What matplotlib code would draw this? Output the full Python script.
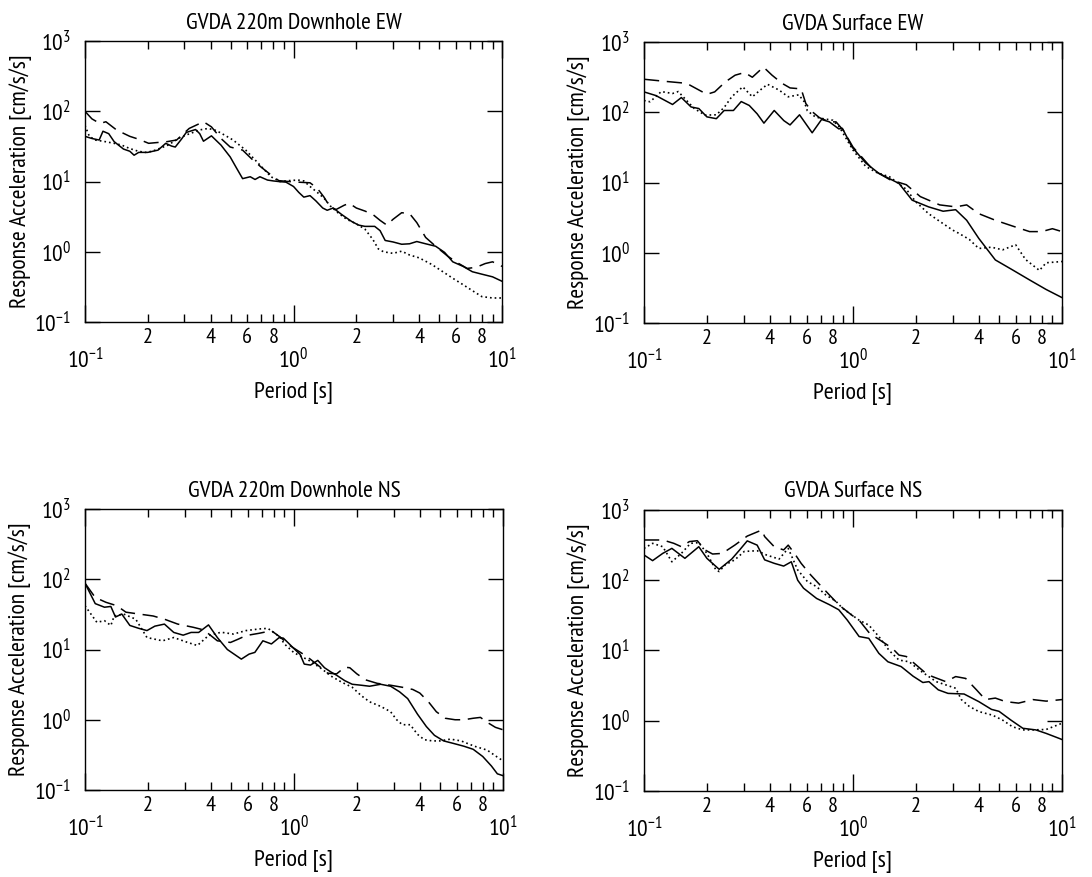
import matplotlib
matplotlib.use('Agg')
import matplotlib.pyplot as plt
import numpy as np
from matplotlib import font_manager
from matplotlib.ticker import LogLocator, FuncFormatter, NullLocator, LogFormatterSciNotation

# ---- data (period [s], response acceleration [cm/s/s]) ----
# GVDA 220m Downhole EW
dh_ew_solid_t = [0.100, 0.108, 0.117, 0.122, 0.130, 0.138, 0.153, 0.164, 0.172, 0.181, 0.200, 0.224, 0.244, 0.260, 0.271,
                 0.290, 0.306, 0.339, 0.355, 0.370, 0.404, 0.449, 0.497, 0.530, 0.570, 0.620, 0.654, 0.690, 0.750, 0.800,
                 0.850, 0.920, 1.00, 1.06, 1.12, 1.20, 1.28, 1.38, 1.45, 1.55, 1.70, 1.90, 2.05, 2.20, 2.45,
                 2.60, 2.75, 3.00, 3.30, 3.60, 3.90, 4.30, 4.80, 5.30, 5.80, 6.50, 7.20, 8.00, 9.00, 10.0]
dh_ew_solid_v = [44, 41, 39, 52, 48, 37, 29, 27, 23.7, 26, 26, 28, 35, 32, 31,
                 40, 50, 55, 48, 37.5, 44.7, 33, 22.4, 16, 11, 11.7, 10.7, 11.7, 10.5, 10.2,
                 10.0, 9.8, 8.5, 7.0, 6.0, 6.3, 5.3, 4.2, 3.9, 4.2, 3.4, 2.7, 2.4, 2.3, 2.3,
                 2.0, 1.45, 1.38, 1.28, 1.3, 1.4, 1.3, 1.2, 0.98, 0.72, 0.62, 0.52, 0.48, 0.44, 0.38]
dh_ew_dot_t = [0.100, 0.105, 0.112, 0.125, 0.138, 0.150, 0.164, 0.180, 0.195, 0.210, 0.231, 0.250, 0.266, 0.285, 0.306,
               0.330, 0.351, 0.390, 0.420, 0.449, 0.513, 0.590, 0.680, 0.780, 0.860, 0.950, 1.05, 1.12, 1.20, 1.30,
               1.40, 1.50, 1.65, 1.80, 2.00, 2.20, 2.40, 2.55, 2.70, 3.00, 3.30, 3.60, 4.00, 4.60, 5.20,
               5.80, 6.50, 7.20, 8.00, 9.00, 10.0]
dh_ew_dot_v = [63, 44, 39, 37, 35, 33, 29.5, 27, 26, 27, 30, 33, 37, 42, 46,
               50, 54, 57, 54, 49, 39, 28, 18, 11.7, 10, 10.3, 10.5, 10.2, 8.5, 7.0,
               5.8, 4.5, 3.5, 2.9, 2.5, 2.1, 1.5, 1.1, 1.0, 0.95, 1.02, 0.9, 0.82, 0.66, 0.52,
               0.42, 0.34, 0.28, 0.23, 0.22, 0.22]
dh_ew_dash_t = [0.100, 0.108, 0.118, 0.126, 0.142, 0.164, 0.181, 0.202, 0.224, 0.248, 0.275, 0.316, 0.370, 0.404, 0.449,
                0.497, 0.570, 0.630, 0.700, 0.780, 0.850, 0.950, 1.05, 1.20, 1.30, 1.40, 1.50, 1.60, 1.75, 1.85,
                2.00, 2.20, 2.40, 2.60, 2.80, 3.00, 3.30, 3.60, 3.90, 4.30, 4.80, 5.50, 6.20, 6.80, 7.50,
                8.30, 9.00, 10.0]
dh_ew_dash_v = [100, 78, 67, 71, 54, 44, 40, 35, 36, 37, 39, 57, 71, 60, 41,
                31, 28, 21, 16, 12.4, 10.3, 10, 9.8, 9.6, 8.0, 6.0, 4.3, 4.0, 4.6, 4.9,
                4.2, 3.8, 3.4, 2.8, 2.4, 2.9, 3.6, 3.5, 2.6, 1.6, 1.2, 0.86, 0.68, 0.58, 0.6,
                0.68, 0.72, 0.62]

# GVDA Surface EW
sf_ew_solid_t = [0.100, 0.114, 0.137, 0.151, 0.168, 0.183, 0.200, 0.222, 0.242, 0.268, 0.292, 0.319, 0.348, 0.375, 0.420,
                 0.467, 0.500, 0.555, 0.638, 0.708, 0.771, 0.855, 0.890, 0.990, 1.15, 1.33, 1.66, 1.92, 2.30, 2.70,
                 3.10, 3.50, 4.00, 4.80, 5.80, 7.00, 8.40, 10.0]
sf_ew_solid_v = [195, 173, 129, 162, 119, 113, 86, 81, 106, 106, 142, 125, 95, 70, 106,
                 76, 66, 92, 51, 79, 73, 58, 59, 32, 19, 13.5, 9.7, 5.6, 4.5, 3.9,
                 4.1, 2.9, 1.6, 0.79, 0.57, 0.41, 0.30, 0.23]
sf_ew_dot_t = [0.100, 0.107, 0.121, 0.137, 0.146, 0.160, 0.174, 0.196, 0.222, 0.242, 0.263, 0.297, 0.330, 0.360, 0.390,
               0.443, 0.490, 0.550, 0.585, 0.605, 0.660, 0.720, 0.800, 0.860, 1.00, 1.15, 1.29, 1.50, 1.80, 2.00,
               2.30, 2.60, 3.00, 3.20, 3.60, 4.00, 4.60, 5.20, 6.00, 6.70, 7.80, 8.40, 10.0]
sf_ew_dot_v = [147, 141, 197, 185, 197, 147, 113, 91, 92, 117, 166, 230, 166, 207, 250,
               207, 166, 177, 141, 105, 86, 81, 77, 62, 29, 17, 14, 12, 8.0, 5.3,
               3.6, 2.8, 2.1, 1.9, 1.55, 1.15, 1.2, 1.1, 1.3, 0.8, 0.56, 0.72, 0.75]
sf_ew_dash_t = [0.100, 0.127, 0.160, 0.200, 0.218, 0.245, 0.273, 0.303, 0.330, 0.373, 0.410, 0.458, 0.500, 0.565, 0.595,
                0.638, 0.690, 0.770, 0.830, 0.900, 1.00, 1.25, 1.50, 1.80, 2.10, 2.60, 3.10, 3.50, 4.00, 4.80,
                5.80, 7.00, 8.00, 9.00, 10.0]
sf_ew_dash_v = [295, 275, 258, 180, 195, 270, 337, 368, 315, 440, 337, 258, 222, 215, 133,
                102, 84, 73, 73, 55, 32, 15, 11, 9.3, 6.3, 4.8, 4.5, 4.8, 3.6, 2.9,
                2.4, 2.0, 2.0, 2.2, 2.0]

# GVDA 220m Downhole NS
dh_ns_solid_t = [0.100, 0.112, 0.124, 0.133, 0.140, 0.150, 0.164, 0.181, 0.198, 0.216, 0.240, 0.266, 0.295, 0.322, 0.350,
                 0.390, 0.430, 0.480, 0.560, 0.610, 0.650, 0.710, 0.780, 0.850, 0.890, 0.950, 1.00, 1.07, 1.12, 1.20,
                 1.30, 1.40, 1.50, 1.60, 1.75, 1.90, 2.10, 2.30, 2.60, 2.90, 3.20, 3.50, 3.90, 4.30, 4.70,
                 5.20, 5.80, 6.50, 7.20, 8.00, 8.80, 9.40, 10.0]
dh_ns_solid_v = [88, 45, 40, 41, 29, 32, 22, 20, 18.6, 21.5, 23, 17.5, 16, 17.5, 17.5,
                 22.4, 14.8, 10, 7.3, 8.6, 9.1, 13.3, 12, 14.8, 14.5, 12, 10.3, 8.5, 6.2, 6.0,
                 7.0, 5.5, 4.8, 4.3, 3.6, 3.2, 3.1, 3.0, 3.2, 3.0, 2.5, 2.0, 1.2, 0.8, 0.6,
                 0.5, 0.46, 0.42, 0.38, 0.3, 0.22, 0.17, 0.16]
dh_ns_dot_t = [0.100, 0.114, 0.124, 0.133, 0.138, 0.153, 0.175, 0.198, 0.235, 0.266, 0.310, 0.345, 0.390, 0.448, 0.513,
               0.590, 0.680, 0.750, 0.820, 0.860, 0.900, 1.00, 1.10, 1.20, 1.37, 1.50, 1.70, 1.90, 2.10, 2.30,
               2.60, 2.90, 3.10, 3.30, 3.60, 3.90, 4.20, 4.60, 5.00, 5.60, 6.30, 7.30, 8.40, 9.30, 10.0]
dh_ns_dot_v = [42, 24.4, 25.7, 22, 30, 32, 27, 14.8, 13.3, 14.8, 12.6, 11.4, 15.8, 17.6, 16.6,
               18.6, 19.6, 20, 16.6, 14.8, 12, 9.0, 7.8, 6.8, 5.2, 4.2, 3.4, 2.9, 2.2, 1.8,
               1.55, 1.3, 1.0, 0.85, 0.85, 0.62, 0.52, 0.5, 0.5, 0.53, 0.5, 0.42, 0.37, 0.3, 0.26]
dh_ns_dash_t = [0.100, 0.112, 0.126, 0.142, 0.157, 0.181, 0.212, 0.240, 0.278, 0.330, 0.370, 0.430, 0.497, 0.540, 0.590,
                0.680, 0.780, 0.860, 0.950, 1.05, 1.15, 1.30, 1.45, 1.60, 1.75, 1.85, 2.00, 2.20, 2.50, 2.90,
                3.30, 3.70, 4.00, 4.40, 4.80, 5.30, 5.90, 6.50, 7.20, 7.80, 8.40, 9.20, 10.0]
dh_ns_dash_v = [88, 55, 47, 42, 34, 32, 30, 27, 23, 20.7, 19, 13.3, 12.6, 14, 15.8,
                17, 18.5, 15, 11.5, 9.5, 8.0, 6.0, 4.6, 4.5, 5.6, 5.5, 4.5, 3.7, 3.3, 3.1,
                2.9, 2.7, 2.4, 1.8, 1.3, 1.05, 1.0, 1.0, 1.05, 1.08, 0.92, 0.78, 0.72]

# GVDA Surface NS
sf_ns_solid_t = [0.100, 0.110, 0.123, 0.136, 0.157, 0.183, 0.200, 0.229, 0.263, 0.287, 0.312, 0.348, 0.378, 0.420, 0.466,
                 0.507, 0.544, 0.580, 0.670, 0.770, 0.855, 0.940, 1.07, 1.19, 1.33, 1.47, 1.70, 1.94, 2.16, 2.31,
                 2.56, 2.85, 3.40, 4.00, 4.60, 5.00, 5.70, 6.50, 7.50, 8.40, 9.70, 10.0]
sf_ns_solid_v = [229, 190, 241, 284, 205, 300, 205, 143, 200, 270, 363, 316, 195, 174, 159,
                 183, 100, 77, 55, 45, 38, 27, 15.8, 14.9, 9.1, 6.9, 5.9, 4.3, 3.5, 3.6,
                 2.75, 2.45, 2.4, 1.87, 1.45, 1.36, 1.02, 0.78, 0.74, 0.66, 0.56, 0.54]
sf_ns_dot_t = [0.100, 0.110, 0.123, 0.136, 0.151, 0.167, 0.183, 0.200, 0.221, 0.229, 0.245, 0.272, 0.302, 0.348, 0.385,
               0.443, 0.490, 0.544, 0.605, 0.670, 0.740, 0.830, 0.890, 1.07, 1.19, 1.33, 1.49, 1.66, 1.86, 2.07,
               2.50, 3.10, 3.30, 3.60, 4.00, 4.65, 5.20, 5.80, 6.50, 7.25, 8.40, 10.0]
sf_ns_dot_v = [284, 335, 300, 183, 241, 335, 343, 241, 140, 133, 166, 195, 257, 263, 229,
               200, 284, 140, 96, 81, 62, 50, 40, 27, 23, 15.8, 10, 7.3, 6.9, 5.3,
               3.6, 2.9, 2.0, 1.6, 1.35, 1.2, 1.02, 0.82, 0.74, 0.74, 0.75, 0.92]
sf_ns_dash_t = [0.100, 0.123, 0.139, 0.151, 0.165, 0.180, 0.196, 0.213, 0.237, 0.272, 0.312, 0.366, 0.378, 0.420, 0.466,
                0.490, 0.525, 0.565, 0.626, 0.680, 0.770, 0.860, 0.990, 1.07, 1.20, 1.54, 1.66, 1.80, 2.24, 2.40,
                2.78, 3.10, 3.46, 3.90, 4.30, 4.80, 5.37, 6.20, 7.25, 8.40, 10.0]
sf_ns_dash_v = [374, 374, 335, 300, 355, 365, 270, 236, 241, 316, 425, 518, 418, 300, 270,
                316, 241, 174, 120, 92, 62, 44, 31.6, 27, 17.6, 10.8, 8.6, 8.2, 4.7, 4.25,
                3.6, 4.25, 4.0, 2.75, 2.0, 2.1, 1.87, 1.78, 2.0, 1.9, 2.0]

titles = ['GVDA 220m Downhole EW', 'GVDA Surface EW', 'GVDA 220m Downhole NS', 'GVDA Surface NS']
panels = [
    [(dh_ew_solid_t, dh_ew_solid_v), (dh_ew_dot_t, dh_ew_dot_v), (dh_ew_dash_t, dh_ew_dash_v)],
    [(sf_ew_solid_t, sf_ew_solid_v), (sf_ew_dot_t, sf_ew_dot_v), (sf_ew_dash_t, sf_ew_dash_v)],
    [(dh_ns_solid_t, dh_ns_solid_v), (dh_ns_dot_t, dh_ns_dot_v), (dh_ns_dash_t, dh_ns_dash_v)],
    [(sf_ns_solid_t, sf_ns_solid_v), (sf_ns_dot_t, sf_ns_dot_v), (sf_ns_dash_t, sf_ns_dash_v)],
]

# ---- fonts: a narrow sans like the original, falling back to DejaVu ----
names = {f.name for f in font_manager.fontManager.ttflist}
narrow = ['Liberation Sans Narrow', 'Arial Narrow', 'PT Sans Narrow', 'Archivo Narrow', 'Roboto Condensed',
          'Pragati Narrow', 'Fira Sans Condensed', 'IBM Plex Sans Condensed', 'Encode Sans Condensed',
          'Open Sans Condensed', 'Barlow Semi Condensed']
family = next((n for n in narrow if n in names), None)
scale = 1.0
if family is None:
    family = 'DejaVu Sans'
    scale = 0.8
plt.rcParams['font.family'] = [family, 'DejaVu Sans']
plt.rcParams['mathtext.fontset'] = 'custom'
plt.rcParams['mathtext.rm'] = family
plt.rcParams['mathtext.it'] = family
plt.rcParams['axes.linewidth'] = 1.0


def minor_label(x, pos):
    m = int(round(x / 10 ** np.floor(np.log10(x) + 1e-9)))
    return str(m) if m in (2, 4, 6, 8) else ''


fig = plt.figure(figsize=(10.92, 8.77), dpi=100)
# axes boxes in figure fractions [left, bottom, width, height]
boxes = [
    [0.0778, 0.6328, 0.3820, 0.3204],
    [0.5897, 0.6317, 0.3828, 0.3204],
    [0.0778, 0.0992, 0.3828, 0.3204],
    [0.5897, 0.0981, 0.3828, 0.3204],
]

for box, title, lines in zip(boxes, titles, panels):
    ax = fig.add_axes(box)
    (ts, vs), (td, vd), (tq, vq) = lines
    ax.plot(ts, vs, color='black', lw=1.1, ls='-')
    ax.plot(td, vd, color='black', lw=1.2, ls=(0, (1, 1.8)))
    ax.plot(tq, vq, color='black', lw=1.1, ls=(0, (10, 5)))

    ax.set_xscale('log')
    ax.set_yscale('log')
    ax.set_xlim(0.1, 10)
    ax.set_ylim(0.1, 1000)

    ax.xaxis.set_major_locator(LogLocator(base=10, numticks=10))
    ax.xaxis.set_minor_locator(LogLocator(base=10, subs=range(2, 10), numticks=20))
    ax.xaxis.set_major_formatter(LogFormatterSciNotation())
    ax.xaxis.set_minor_formatter(FuncFormatter(minor_label))
    ax.yaxis.set_major_locator(LogLocator(base=10, numticks=10))
    ax.yaxis.set_minor_locator(NullLocator())

    ax.tick_params(which='both', direction='in', top=True, right=True, width=1.0, color='black')
    ax.tick_params(axis='x', which='major', length=12, pad=19, labelsize=17 * scale)
    ax.tick_params(axis='x', which='minor', length=5.5, pad=4, labelsize=16 * scale)
    ax.tick_params(axis='y', which='major', length=11, pad=10, labelsize=17 * scale)

    ax.set_title(title, fontsize=17 * scale, pad=9)
    ax.set_xlabel('Period [s]', fontsize=17.5 * scale)
    ax.set_ylabel('Response Acceleration [cm/s/s]', fontsize=17 * scale)
    ax.xaxis.set_label_coords(0.5, -0.215)
    ax.yaxis.set_label_coords(-0.128, 0.5)

fig.savefig('out.png', dpi=100)
